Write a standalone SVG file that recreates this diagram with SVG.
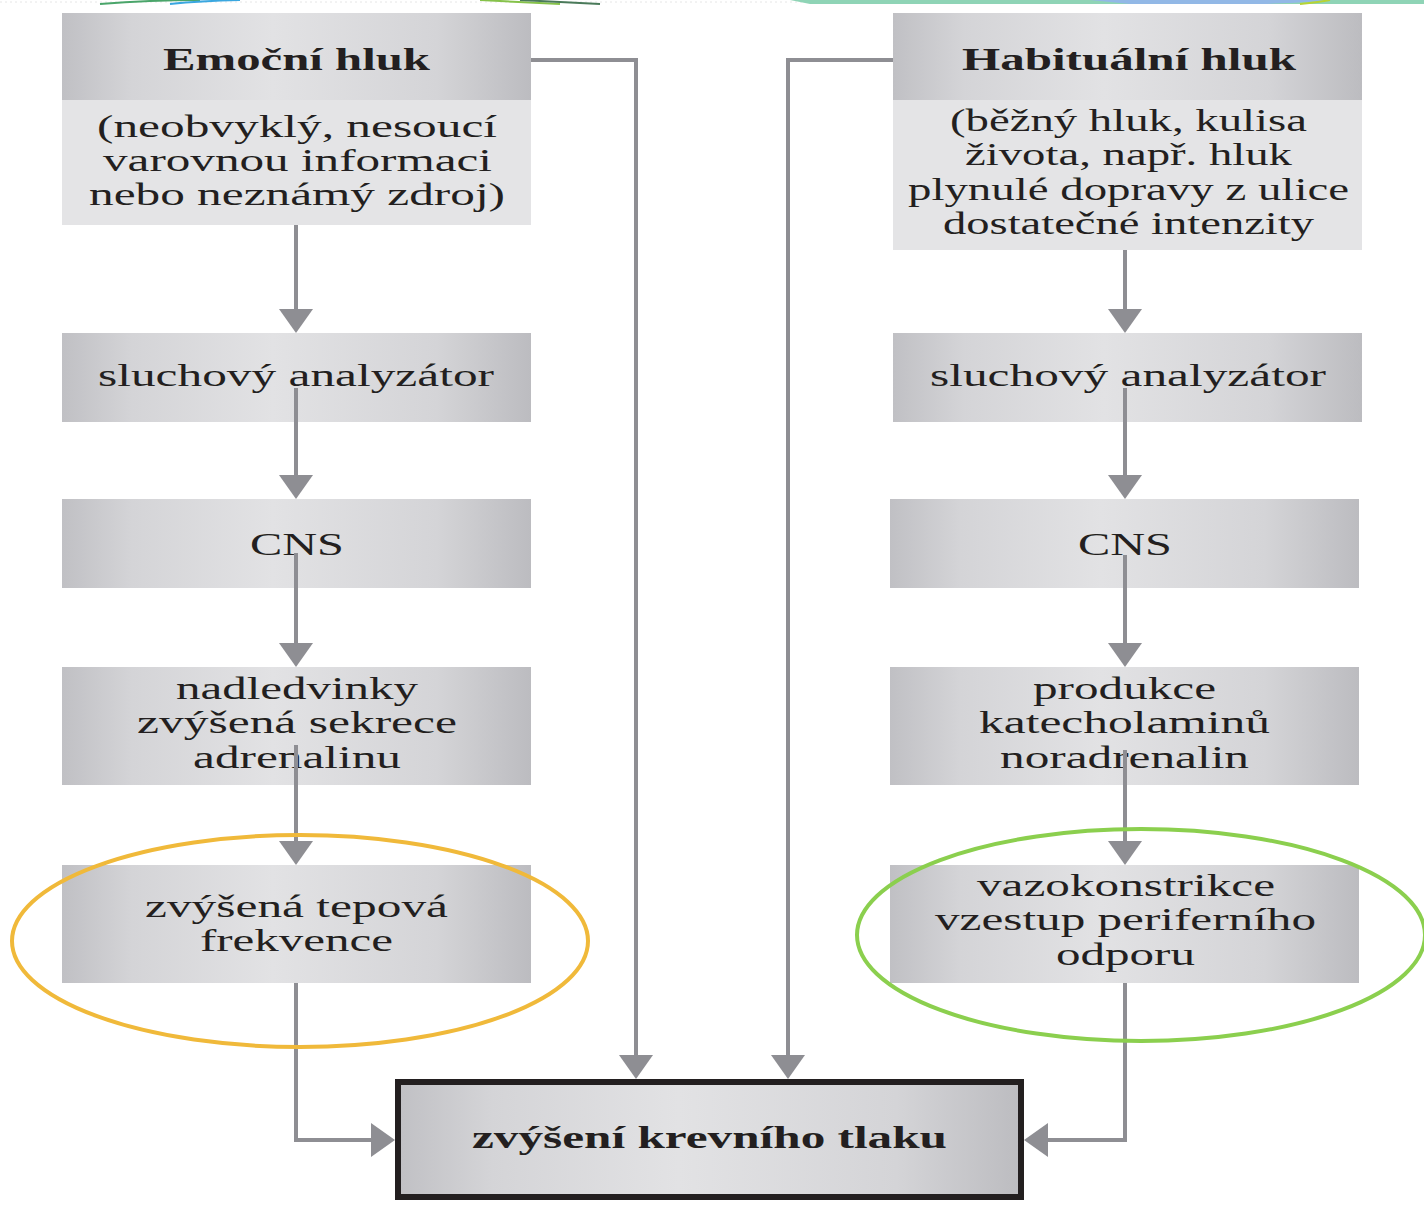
<svg xmlns="http://www.w3.org/2000/svg" width="1424" height="1221" viewBox="0 0 1424 1221">
<defs>
<linearGradient id="g" x1="0" y1="0" x2="1" y2="0">
<stop offset="0" stop-color="#c0c0c4"/>
<stop offset="0.15" stop-color="#d4d4d7"/>
<stop offset="0.45" stop-color="#e2e2e4"/>
<stop offset="0.8" stop-color="#d4d4d7"/>
<stop offset="1" stop-color="#bcbcc0"/>
</linearGradient>
<marker id="ah" markerWidth="24" markerHeight="34" refX="18" refY="17" orient="auto" markerUnits="userSpaceOnUse">
<path d="M0,0 L24,17 L0,34 z" fill="#8e8e93"/>
</marker>
</defs>
<style>
.box{fill:url(#g)}
.sub{fill:#e4e4e6}
.t{font-family:"Liberation Serif","Times New Roman",serif;font-size:31px;fill:#231f20;text-anchor:start}
.b{font-weight:bold}
.c{fill:none;stroke:#8e8e93;stroke-width:4}
</style>
<rect width="1424" height="1221" fill="#ffffff"/>
<g id="decor">
<line x1="0" y1="2" x2="1424" y2="2" stroke="#e6e6e6" stroke-width="1" stroke-dasharray="2,3"/>
<path d="M100,4 Q150,0 200,0" stroke="#4aa56a" stroke-width="2" fill="none"/>
<path d="M170,4 Q200,1 240,0" stroke="#3aa7e0" stroke-width="2" fill="none"/>
<path d="M480,0 Q520,2 560,4" stroke="#86c24a" stroke-width="2" fill="none"/>
<path d="M520,0 Q560,2 600,4" stroke="#4a7a5a" stroke-width="2" fill="none"/>
<path d="M790,0 L1424,0 L1424,4 L1280,4 Q1200,4 1120,4 L810,4 Z" fill="#8fd4b6"/>
<path d="M1090,0 L1330,0 Q1300,3 1260,4 L1130,4 Z" fill="#92b8e6"/>
<path d="M1300,4 Q1320,2 1330,0" stroke="#b7d334" stroke-width="2" fill="none"/>
</g>
<g id="n-emocni">
<rect class="box" x="62" y="13" width="469" height="87"/>
<rect class="sub" x="62" y="100" width="469" height="125"/>
<text class="t b" x="163" y="70" textLength="267" lengthAdjust="spacingAndGlyphs">Emoční hluk</text>
<text class="t" x="97" y="137" textLength="400" lengthAdjust="spacingAndGlyphs">(neobvyklý, nesoucí</text>
<text class="t" x="103" y="171" textLength="389" lengthAdjust="spacingAndGlyphs">varovnou informaci</text>
<text class="t" x="89" y="205" textLength="416" lengthAdjust="spacingAndGlyphs">nebo neznámý zdroj)</text>
</g>
<g id="n-habitualni">
<rect class="box" x="893" y="13" width="469" height="87"/>
<rect class="sub" x="893" y="100" width="469" height="150"/>
<text class="t b" x="962" y="70" textLength="334" lengthAdjust="spacingAndGlyphs">Habituální hluk</text>
<text class="t" x="950" y="131" textLength="357" lengthAdjust="spacingAndGlyphs">(běžný hluk, kulisa</text>
<text class="t" x="965" y="165" textLength="327" lengthAdjust="spacingAndGlyphs">života, např. hluk</text>
<text class="t" x="908" y="200" textLength="441" lengthAdjust="spacingAndGlyphs">plynulé dopravy z ulice</text>
<text class="t" x="943" y="234" textLength="371" lengthAdjust="spacingAndGlyphs">dostatečné intenzity</text>
</g>
<g id="n-sluch-l">
<rect class="box" x="62" y="333" width="469" height="89"/>
<text class="t" x="98" y="386" textLength="396" lengthAdjust="spacingAndGlyphs">sluchový analyzátor</text>
</g>
<g id="n-sluch-r">
<rect class="box" x="893" y="333" width="469" height="89"/>
<text class="t" x="930" y="386" textLength="396" lengthAdjust="spacingAndGlyphs">sluchový analyzátor</text>
</g>
<g id="n-cns-l">
<rect class="box" x="62" y="499" width="469" height="89"/>
<text class="t" x="250" y="555" textLength="94" lengthAdjust="spacingAndGlyphs">CNS</text>
</g>
<g id="n-cns-r">
<rect class="box" x="890" y="499" width="469" height="89"/>
<text class="t" x="1078" y="555" textLength="94" lengthAdjust="spacingAndGlyphs">CNS</text>
</g>
<g id="n-nadledvinky">
<rect class="box" x="62" y="667" width="469" height="118"/>
<text class="t" x="176" y="699" textLength="242" lengthAdjust="spacingAndGlyphs">nadledvinky</text>
<text class="t" x="137" y="733" textLength="320" lengthAdjust="spacingAndGlyphs">zvýšená sekrece</text>
<text class="t" x="193" y="768" textLength="208" lengthAdjust="spacingAndGlyphs">adrenalinu</text>
</g>
<g id="n-produkce">
<rect class="box" x="890" y="667" width="469" height="118"/>
<text class="t" x="1033" y="699" textLength="183" lengthAdjust="spacingAndGlyphs">produkce</text>
<text class="t" x="979" y="733" textLength="291" lengthAdjust="spacingAndGlyphs">katecholaminů</text>
<text class="t" x="1000" y="768" textLength="249" lengthAdjust="spacingAndGlyphs">noradrenalin</text>
</g>
<g id="n-tepova">
<rect class="box" x="62" y="865" width="469" height="118"/>
<text class="t" x="145" y="917" textLength="303" lengthAdjust="spacingAndGlyphs">zvýšená tepová</text>
<text class="t" x="200" y="951" textLength="193" lengthAdjust="spacingAndGlyphs">frekvence</text>
</g>
<g id="n-vazo">
<rect class="box" x="890" y="865" width="469" height="118"/>
<text class="t" x="977" y="896" textLength="298" lengthAdjust="spacingAndGlyphs">vazokonstrikce</text>
<text class="t" x="935" y="930" textLength="381" lengthAdjust="spacingAndGlyphs">vzestup periferního</text>
<text class="t" x="1056" y="965" textLength="139" lengthAdjust="spacingAndGlyphs">odporu</text>
</g>
<g id="n-tlak">
<rect class="box" x="398" y="1082" width="623" height="115" stroke="#231f20" stroke-width="6"/>
<text class="t b" x="472" y="1148" textLength="475" lengthAdjust="spacingAndGlyphs">zvýšení krevního tlaku</text>
</g>
<g id="connectors">
<path class="c" d="M296,225 V327" marker-end="url(#ah)"/>
<path class="c" d="M296,388 V493" marker-end="url(#ah)"/>
<path class="c" d="M296,553 V661" marker-end="url(#ah)"/>
<path class="c" d="M296,745 V859" marker-end="url(#ah)"/>
<path class="c" d="M296,983 V1140 H389" marker-end="url(#ah)"/>
<path class="c" d="M531,60 H636 V1073" marker-end="url(#ah)"/>
<path class="c" d="M1125,250 V327" marker-end="url(#ah)"/>
<path class="c" d="M1125,388 V493" marker-end="url(#ah)"/>
<path class="c" d="M1125,555 V661" marker-end="url(#ah)"/>
<path class="c" d="M1125,750 V859" marker-end="url(#ah)"/>
<path class="c" d="M1125,983 V1140 H1030" marker-end="url(#ah)"/>
<path class="c" d="M893,60 H788 V1073" marker-end="url(#ah)"/>
</g>
<g id="highlights">
<ellipse cx="300" cy="941" rx="288" ry="106" fill="none" stroke="#f0b93a" stroke-width="4"/>
<ellipse cx="1141" cy="935" rx="284" ry="106" fill="none" stroke="#8bcf4e" stroke-width="4"/>
</g>
</svg>
